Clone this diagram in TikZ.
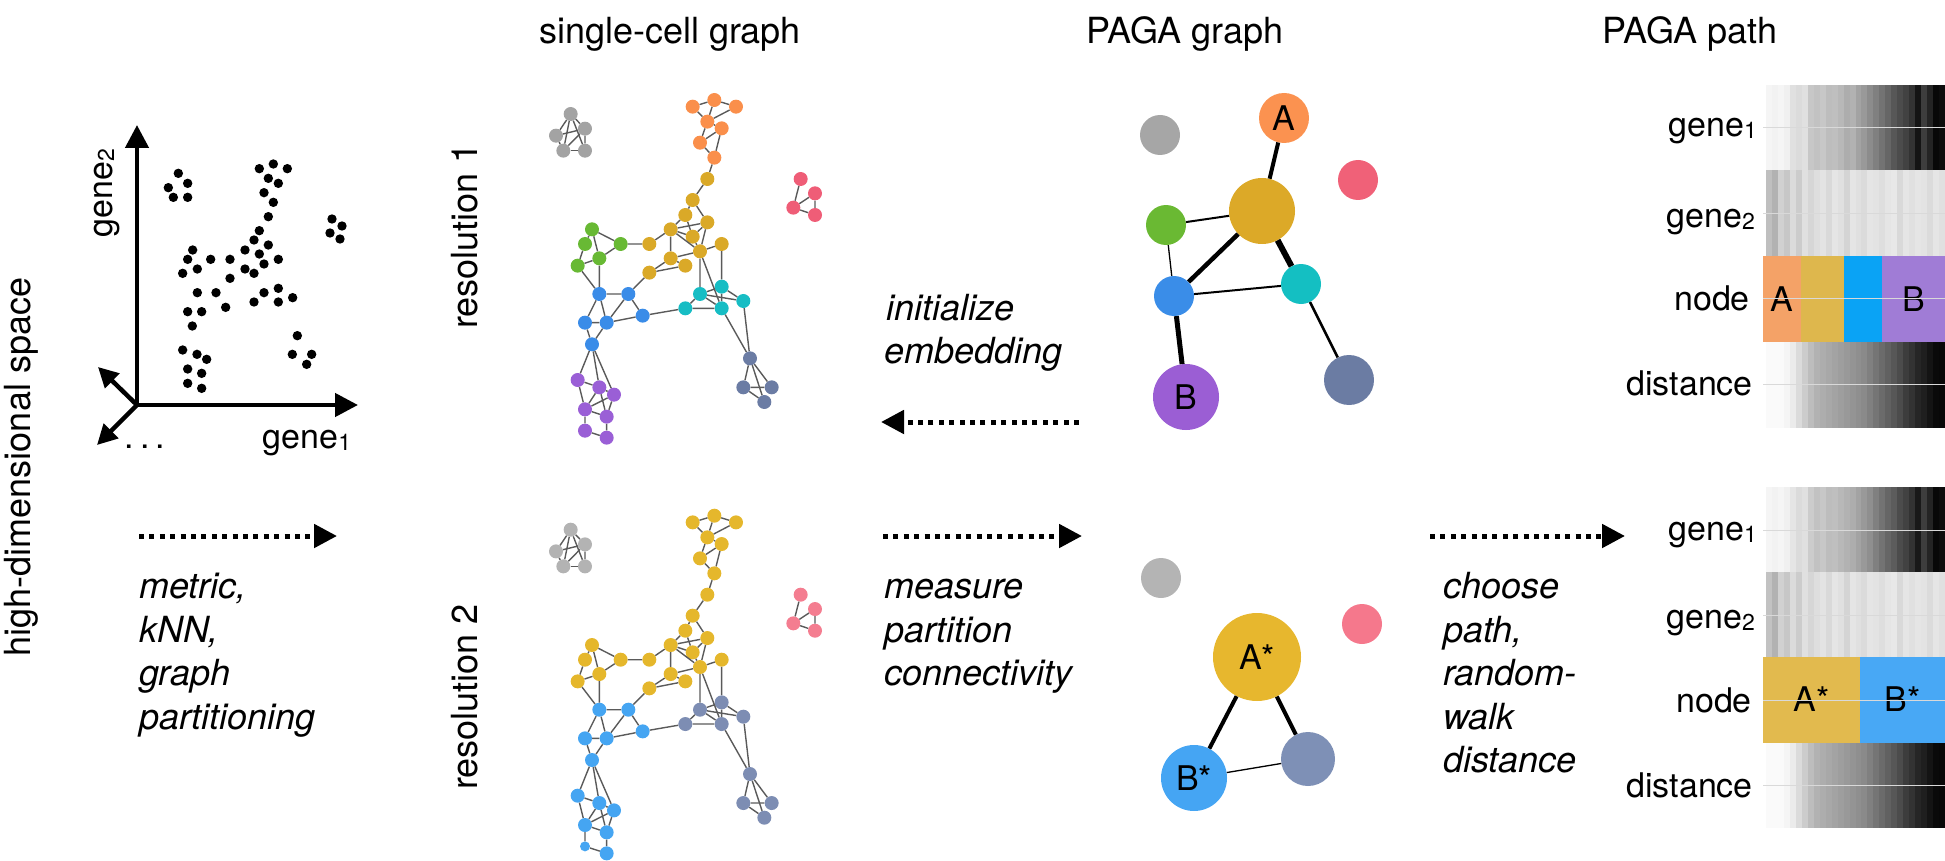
\documentclass[tikz,border=0pt]{standalone}
\usepackage{fontspec}
\setmainfont{TeX Gyre Heros}
\usetikzlibrary{arrows.meta}
\definecolor{edgegray}{HTML}{5A5A5A}
% PAGA graph colours
\definecolor{pgGray}{HTML}{A6A6A6}
\definecolor{pgOrange}{HTML}{FB9250}
\definecolor{pgRed}{HTML}{F06178}
\definecolor{pgYellow}{HTML}{DCA928}
\definecolor{pgGreen}{HTML}{6AB933}
\definecolor{pgCyan}{HTML}{14BFC2}
\definecolor{pgBlue}{HTML}{3A8DE8}
\definecolor{pgPurple}{HTML}{9B5ED4}
\definecolor{pgSlate}{HTML}{6B7CA3}
\definecolor{qgGray}{HTML}{B4B4B4}
\definecolor{qgRed}{HTML}{F5788C}
\definecolor{qgYellow}{HTML}{E7B72E}
\definecolor{qgBlue}{HTML}{45A5F3}
\definecolor{qgSlate}{HTML}{7E90B6}
% path colours
\definecolor{nOrange}{HTML}{F4A267}
\definecolor{nYellow}{HTML}{DEB74D}
\definecolor{nBlue}{HTML}{0AA3F5}
\definecolor{nPurple}{HTML}{A07CD6}
\definecolor{mYellow}{HTML}{E2BA4E}
\definecolor{mBlue}{HTML}{48A8F5}

\newcommand\drawSCgraph{%
  \foreach \n/\x/\y in {a1/122/72, a2/165/116, a3/78/137, a4/100/182, a5/165/182}
    \node[sc=kGray] (\n) at (\x,\y) {};
  \foreach \n/\x/\y in {o1/488/50, o2/553/30, o3/618/50, o4/532/95, o5/575/115, o6/510/158, o7/553/203}
    \node[sc=kOrange] (\n) at (\x,\y) {};
  \foreach \n/\x/\y in {y1/532/267, y2/488/330, y3/466/375, y4/532/397, y5/422/418, y6/488/440, y7/358/462, y8/510/484, y9/575/462, y10/422/505, y11/466/527, y12/358/548}
    \node[sc=kYellow] (\n) at (\x,\y) {};
  \foreach \n/\x/\y in {g1/186/418, g2/165/462, g3/272/462, g4/208/505, g5/143/527}
    \node[sc=kGreen] (\n) at (\x,\y) {};
  \foreach \n/\x/\y in {b1/208/612, b2/295/612, b3/165/698, b4/230/698, b5/338/677, b6/186/763}
    \node[sc=kBlue] (\n) at (\x,\y) {};
  \foreach \n/\x/\y in {c1/510/612, c2/575/590, c3/466/655, c4/575/655, c5/640/633}
    \node[sc=kCyan] (\n) at (\x,\y) {};
  \foreach \n/\x/\y in {s1/660/805, s2/640/892, s3/725/892, s4/703/936}
    \node[sc=kSlate] (\n) at (\x,\y) {};
  \foreach \n/\x/\y in {p1/143/870, p2/208/892, p3/252/914, p4/165/958, p5/230/980, p7/230/1043}
    \node[sc=kPurple] (\n) at (\x,\y) {};
  \node[sc=kPurple, minimum size=\pSixSize] (p6) at (165,1022) {};
  \foreach \n/\x/\y in {r1/812/267, r2/855/310, r3/790/353, r4/855/375}
    \node[sc=kRed] (\n) at (\x,\y) {};
  \foreach \a/\b in {a1/a2,a1/a3,a1/a4,a1/a5,a3/a2,a3/a4,a4/a5,a2/a5,a4/a2,
    o1/o2,o2/o3,o1/o4,o2/o4,o4/o3,o4/o5,o4/o6,o6/o5,o6/o7,o5/o7,
    o7/y1,y1/y2,y2/y3,y2/y4,y3/y5,y5/y4,y5/y6,y5/y8,y4/y6,y4/y8,y3/y6,y6/y8,y5/y10,y10/y8,y10/y11,y8/y9,y7/y5,y7/g3,y12/y10,y12/y11,y12/b2,y8/c1,y8/c4,y9/c2,
    c3/c1,c3/c4,c1/c2,c1/c4,c1/c5,c2/c5,c2/c4,c5/s1,c4/s1,b5/c3,
    g1/g2,g1/g4,g1/g3,g2/g5,g4/g3,g4/g5,g4/b1,g5/b1,
    b1/b2,b1/b3,b1/b4,b2/b4,b2/b5,b3/b4,b4/b5,b3/b6,b4/b6,
    b6/p1,b6/p2,b6/p3,p1/p2,p1/p4,p2/p3,p2/p4,p2/p5,p3/p4,p3/p5,p4/p5,p4/p6,p6/p7,p5/p7,
    s1/s2,s1/s3,s1/s4,s2/s3,s2/s4,
    r1/r3,r2/r3,r2/r4,r3/r4}
    \draw[scedge] (\a) -- (\b);
}

\newcommand\gband[2]{%
  \foreach \g [count=\i from 0] in {#2}
    \fill[black!\g] ({1766+\i*5.967},#1) rectangle ({1766+(\i+1)*5.967+0.4},{#1+85.5});
}
\newcommand\subnum[1]{\raisebox{-2pt}{\fontsize{23}{26}\selectfont #1}}

\begin{document}
\begin{tikzpicture}[x=1pt,y=-1pt,
  txt/.style={font=\fontsize{36}{43}\selectfont, inner sep=0pt},
  lbl/.style={font=\fontsize{34}{40}\selectfont, inner sep=0pt},
  itx/.style={font=\fontsize{36}{43}\selectfont\itshape, inner sep=0pt, anchor=base west},
  sc/.style={circle, fill=#1, draw=none, inner sep=0pt, minimum size=14pt},
  scedge/.style={line width=1.4pt, draw=edgegray},
  pg/.style 2 args={circle, fill=#1, draw=none, inner sep=0pt, minimum size=#2, font=\fontsize{34}{40}\selectfont},
  axisarrow/.style={line width=4.5pt, line join=miter, {Triangle[length=23pt,width=23pt]}-{Triangle[length=23pt,width=23pt]}},
  diagarrow/.style={line width=4.5pt, line join=miter, {Triangle[length=20pt,width=20pt]}-{Triangle[length=20pt,width=20pt]}},
  dotarrow/.style={line width=5pt, dash pattern=on 5pt off 5.4pt, -{Triangle[length=23pt,width=23pt]}},
  seg/.style={rectangle, fill=#1, draw=none, inner sep=0pt, minimum height=86pt, font=\fontsize{34}{40}\selectfont},
  cline/.style={draw=black!15, line width=1pt},
]
\useasboundingbox (0,0) rectangle (1945,861);

% ---------- titles ----------
\node[txt, anchor=base] (t1) at (670,44) {single-cell graph};
\node[txt, anchor=base] (t2) at (1185,44) {PAGA graph};
\node[txt, anchor=base] (t3) at (1690,44) {PAGA path};

% ---------- high-dimensional space ----------
\node[txt, rotate=90, anchor=base] (hds) at (30,467) {high-dimensional space};
\coordinate (O) at (137,405);
\coordinate (Ytip) at (137,125);
\coordinate (Xtip) at (358,405);
\coordinate (D1) at (98,367);
\coordinate (D2) at (97,445);
\draw[axisarrow] (Ytip) -- (O) -- (Xtip);
\draw[diagarrow] (D1) -- (O) -- (D2);
\node[lbl, rotate=90, anchor=base] (g2lab) at (112,193) {gene\subnum{2}};
\node[lbl, anchor=base] (g1lab) at (307,448) {gene\subnum{1}};
\node[lbl, anchor=base] (dots) at (145,448) {.\hspace{6pt}.\hspace{6pt}.};
\foreach \x/\y in {535/310,563/340,505/353,520/382,563/382,
  778/296,820/282,862/296,805/325,835/340,792/368,820/397,805/440,778/482,762/510,805/525,735/540,778/552,835/568,792/582,735/597,762/610,690/568,690/625,632/568,578/540,563/568,592/597,548/610,592/668,648/668,677/712,762/696,792/668,835/655,835/696,878/683}
  \fill ({\x/3},{\y/3+70}) circle[radius=4.7pt];
\foreach \x/\y in {383/35,425/35,397/78,368/150,411/163,440/178,383/207,425/220,383/250,425/265,712/107,697/163,755/163,740/193}
  \fill ({\x/3+60},{\y/3+300}) circle[radius=4.7pt];
\foreach \x/\y in {332/219,342/226,330/233,340/239}
  \fill (\x,\y) circle[radius=4.7pt];

% ---------- left arrow & text ----------
\coordinate (la1) at (139,536);
\coordinate (la2) at (337,536);
\draw[dotarrow] (la1) -- (la2);
\node[itx] (lt1) at (139,598) {metric,};
\node[itx] (lt2) at (139,642) {kNN,};
\node[itx] (lt3) at (139,685) {graph};
\node[itx] (lt4) at (139,729) {partitioning};

% ---------- resolution labels ----------
\node[txt, rotate=90, anchor=base] (res1) at (477,236) {resolution 1};
\node[txt, rotate=90, anchor=base] (res2) at (477,697) {resolution 2};

% ---------- single-cell graphs ----------
\begin{scope}[shift={(530,90)}, scale=1/3, name prefix=t-]
  \definecolor{kGray}{HTML}{A3A3A3}
  \definecolor{kOrange}{HTML}{FA8F4B}
  \definecolor{kYellow}{HTML}{DAA928}
  \definecolor{kGreen}{HTML}{68B934}
  \definecolor{kBlue}{HTML}{3A8CE8}
  \definecolor{kCyan}{HTML}{17BDC4}
  \definecolor{kSlate}{HTML}{6B7CA4}
  \definecolor{kPurple}{HTML}{9A5FD6}
  \definecolor{kRed}{HTML}{EF5D77}
  \def\pSixSize{14pt}
  \drawSCgraph
\end{scope}
\begin{scope}[shift={(530,505.7)}, scale=1/3, name prefix=b-]
  \definecolor{kGray}{HTML}{B3B3B3}
  \definecolor{kOrange}{HTML}{E5B72C}
  \definecolor{kYellow}{HTML}{E5B72C}
  \definecolor{kGreen}{HTML}{E5B72C}
  \definecolor{kBlue}{HTML}{45A5F2}
  \definecolor{kCyan}{HTML}{7D8DB3}
  \definecolor{kSlate}{HTML}{7D8DB3}
  \definecolor{kPurple}{HTML}{45A5F2}
  \definecolor{kRed}{HTML}{F47D90}
  \def\pSixSize{10pt}
  \drawSCgraph
\end{scope}

% ---------- middle arrows & text ----------
\coordinate (ia1) at (1079,422);
\coordinate (ia2) at (881,422);
\draw[dotarrow] (ia1) -- (ia2);
\node[itx] (it1) at (886,320) {initialize};
\node[itx] (it2) at (884,363) {embedding};
\coordinate (ma1) at (883,536);
\coordinate (ma2) at (1082,536);
\draw[dotarrow] (ma1) -- (ma2);
\node[itx] (mt1) at (884,598) {measure};
\node[itx] (mt2) at (884,642) {partition};
\node[itx] (mt3) at (884,685) {connectivity};

% ---------- PAGA graph top ----------
\node[pg={pgGray}{40pt}] (gG) at (1160,135) {};
\node[pg={pgOrange}{50pt}] (gA) at (1284,118) {A};
\node[pg={pgRed}{40pt}] (gR) at (1358,180) {};
\node[pg={pgYellow}{66pt}] (gY) at (1262,211) {};
\node[pg={pgGreen}{40pt}] (gGr) at (1166,225) {};
\node[pg={pgCyan}{40pt}] (gC) at (1301,284) {};
\node[pg={pgBlue}{40pt}] (gBl) at (1174,296) {};
\node[pg={pgPurple}{66pt}] (gB) at (1186,397) {B};
\node[pg={pgSlate}{50pt}] (gS) at (1349,380) {};
\draw[line width=4pt] (gA) -- (gY);
\draw[line width=2pt] (gGr) -- (gY);
\draw[line width=1.3pt] (gGr) -- (gBl);
\draw[line width=4.5pt] (gY) -- (gBl);
\draw[line width=6pt] (gY) -- (gC);
\draw[line width=2pt] (gBl) -- (gC);
\draw[line width=5pt] (gBl) -- (gB);
\draw[line width=2.5pt] (gC) -- (gS);

% ---------- PAGA graph bottom ----------
\node[pg={qgGray}{40pt}] (hG) at (1161,578) {};
\node[pg={qgRed}{40pt}] (hR) at (1362,624) {};
\node[pg={qgYellow}{88pt}] (hA) at (1257,657) {A*};
\node[pg={qgBlue}{66pt}] (hB) at (1194,778) {B*};
\node[pg={qgSlate}{54pt}] (hS) at (1308,759) {};
\draw[line width=4pt] (hA) -- (hB);
\draw[line width=4pt] (hA) -- (hS);
\draw[line width=1.3pt] (hB) -- (hS);

% ---------- right arrow & text ----------
\coordinate (ra1) at (1430,536);
\coordinate (ra2) at (1625,536);
\draw[dotarrow] (ra1) -- (ra2);
\node[itx] (rt1) at (1443,598) {choose};
\node[itx] (rt2) at (1443,642) {path,};
\node[itx] (rt3) at (1443,685) {random-};
\node[itx] (rt4) at (1443,729) {walk};
\node[itx] (rt5) at (1443,772) {distance};

% ---------- PAGA path top ----------
\gband{85}{4,5,4,6,12,14,12,22,24,22,26,25,28,32,30,36,40,45,50,55,60,66,70,74,80,92,76,86,97,95}
\gband{170}{25,30,18,22,14,20,12,16,13,11,15,10,12,17,10,12,14,10,11,13,10,9,15,10,12,10,11,14,10,12}
\gband{342}{2,2,2,4,8,14,20,26,30,32,34,36,38,40,42,44,46,50,54,58,62,66,70,76,80,85,88,92,96,97}
\node[seg=nOrange, minimum width=38pt] (tA) at (1782,299) {A};
\node[seg=nYellow, minimum width=43pt] (tY) at (1822.5,299) {};
\node[seg=nBlue, minimum width=38pt] (tBl) at (1863,299) {};
\node[seg=nPurple, minimum width=63pt] (tB) at (1913.5,299) {B};
\foreach \yy in {128,213,298,384}
  \draw[cline] (1763,\yy) -- (1945,\yy);
\node[lbl, anchor=base east] (pl1) at (1757,137) {gene\subnum{1}};
\node[lbl, anchor=base east] (pl2) at (1755,227) {gene\subnum{2}};
\node[lbl, anchor=base east] (pl3) at (1750,310) {node};
\node[lbl, anchor=base east] (pl4) at (1753,395) {distance};

% ---------- PAGA path bottom ----------
\gband{487}{4,5,4,6,10,14,12,20,24,22,26,25,28,30,32,36,40,44,50,55,60,64,70,74,80,90,76,86,97,95}
\gband{572}{24,30,18,22,14,20,12,16,13,11,15,10,12,17,10,12,14,10,11,13,10,9,15,10,12,10,11,14,10,12}
\gband{742}{2,2,2,4,8,14,20,26,30,32,34,36,38,40,42,44,46,50,54,58,62,66,70,76,80,85,88,92,96,97}
\node[seg=mYellow, minimum width=97pt] (bA) at (1811.5,699.5) {A*};
\node[seg=mBlue, minimum width=85pt] (bB) at (1902.5,699.5) {B*};
\foreach \yy in {530,615,700,785}
  \draw[cline] (1763,\yy) -- (1945,\yy);
\node[lbl, anchor=base east] (ql1) at (1757,540) {gene\subnum{1}};
\node[lbl, anchor=base east] (ql2) at (1755,628) {gene\subnum{2}};
\node[lbl, anchor=base east] (ql3) at (1752,712) {node};
\node[lbl, anchor=base east] (ql4) at (1753,797) {distance};
\end{tikzpicture}
\end{document}
